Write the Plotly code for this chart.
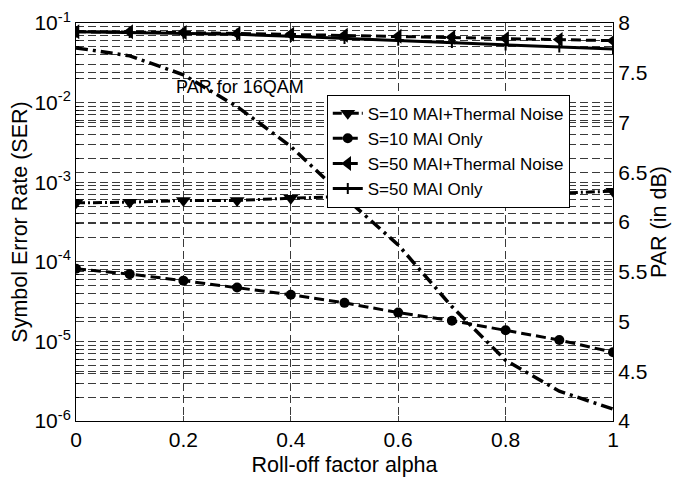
import plotly.graph_objects as go

alpha = [0, 0.1, 0.2, 0.3, 0.4, 0.5, 0.6, 0.7, 0.8, 0.9, 1.0]
ser_s10_mai_thermal = [5.5e-4, 5.6e-4, 5.9e-4, 5.9e-4, 6.3e-4, 6.6e-4, 6.7e-4, 6.9e-4, 7.1e-4, 7.3e-4, 7.7e-4]
ser_s10_mai_only = [8.2e-5, 7.0e-5, 5.8e-5, 4.75e-5, 3.85e-5, 3.05e-5, 2.3e-5, 1.82e-5, 1.38e-5, 1.04e-5, 7.3e-6]
ser_s50_mai_thermal = [0.0775, 0.0775, 0.076, 0.074, 0.072, 0.070, 0.068, 0.066, 0.064, 0.062, 0.060]
ser_s50_mai_only = [0.0775, 0.076, 0.0745, 0.072, 0.068, 0.064, 0.061, 0.057, 0.053, 0.050, 0.047]
par_16qam = [7.75, 7.67, 7.48, 7.16, 6.76, 6.25, 5.77, 5.15, 4.61, 4.30, 4.12]

names = ["S=10 MAI+Thermal Noise", "S=10 MAI Only", "S=50 MAI+Thermal Noise", "S=50 MAI Only"]
decades = [1e-6, 1e-5, 1e-4, 1e-3, 1e-2, 1e-1]
decade_text = ["10<sup>-6</sup>", "10<sup>-5</sup>", "10<sup>-4</sup>", "10<sup>-3</sup>", "10<sup>-2</sup>", "10<sup>-1</sup>"]
minor_vals = [k * 10.0 ** e for e in range(-6, -1) for k in range(2, 10)]
x_ticks = [0, 0.2, 0.4, 0.6, 0.8, 1.0]
x_text = ["0", "0.2", "0.4", "0.6", "0.8", "1"]
par_ticks = [4, 4.5, 5, 5.5, 6, 6.5, 7, 7.5, 8]
par_text = ["4", "4.5", "5", "5.5", "6", "6.5", "7", "7.5", "8"]

FONT = "Liberation Sans, Arial, sans-serif"
GRID = "#3a3a3a"
GDASH = "8px,4px"
TICKF = 21
TITLEF = 21.5

fig = go.Figure()
fig.add_trace(go.Scatter(x=alpha, y=ser_s10_mai_thermal, name=names[0], mode="lines+markers",
                         line=dict(color="black", width=3, dash="9px,3px,2px,3px"),
                         marker=dict(symbol="triangle-down", size=13, color="black")))
fig.add_trace(go.Scatter(x=alpha, y=ser_s10_mai_only, name=names[1], mode="lines+markers",
                         line=dict(color="black", width=3, dash="10px,5px"),
                         marker=dict(symbol="circle", size=10, color="black")))
fig.add_trace(go.Scatter(x=alpha, y=ser_s50_mai_thermal, name=names[2], mode="lines+markers",
                         line=dict(color="black", width=3, dash="10px,5px"),
                         marker=dict(symbol="triangle-left", size=13, color="black")))
fig.add_trace(go.Scatter(x=alpha, y=ser_s50_mai_only, name=names[3], mode="lines+markers",
                         line=dict(color="black", width=3),
                         marker=dict(symbol="cross-thin", size=8, color="black",
                                     line=dict(color="black", width=2))))
fig.add_trace(go.Scatter(x=alpha, y=par_16qam, name="PAR for 16QAM", mode="lines", yaxis="y2",
                         showlegend=False,
                         line=dict(color="black", width=3.5, dash="12px,5px,3px,5px")))

fig.add_annotation(x=0.305, y=7.36, xref="x", yref="y2", text="PAR for 16QAM", showarrow=False,
                   font=dict(family=FONT, size=18, color="black"))

fig.update_layout(
    width=682, height=481,
    margin=dict(l=68, r=77, t=15, b=68, autoexpand=False),
    paper_bgcolor="white", plot_bgcolor="white",
    font=dict(family=FONT, size=TICKF, color="black"),
    showlegend=True,
    legend=dict(x=0.467, y=0.82, xanchor="left", yanchor="top",
                bgcolor="white", bordercolor="black", borderwidth=1,
                font=dict(family=FONT, size=17, color="black"),
                itemwidth=30, tracegroupgap=0),
    xaxis=dict(range=[0, 1], tickvals=x_ticks, ticktext=x_text, ticks="inside", ticklen=5,
               showline=True, linecolor="black", linewidth=1, mirror="ticks", automargin=False,
               showgrid=True, gridcolor=GRID, griddash=GDASH, gridwidth=1, zeroline=False,
               tickfont=dict(size=TICKF), ticklabeloverflow="allow",
               title=dict(text="Roll-off factor alpha", font=dict(size=TITLEF), standoff=6)),
    yaxis=dict(type="log", range=[-6, -1], tickvals=decades, ticktext=decade_text, automargin=False,
               ticks="inside", ticklen=5, showline=True, linecolor="black", linewidth=1,
               showgrid=True, gridcolor=GRID, griddash=GDASH, gridwidth=1, zeroline=False,
               tickfont=dict(size=TICKF), ticklabeloverflow="allow",
               minor=dict(tickvals=minor_vals, ticks="inside", ticklen=3, tickcolor="black",
                          showgrid=True, gridcolor=GRID, griddash=GDASH, gridwidth=1),
               title=dict(text="Symbol Error Rate (SER)", font=dict(size=TITLEF), standoff=2)),
    yaxis2=dict(overlaying="y", side="right", range=[4, 8], tickvals=par_ticks, ticktext=par_text,
                ticks="inside", ticklen=5, showline=True, linecolor="black", linewidth=1,
                automargin=False, tickfont=dict(size=TICKF), ticklabeloverflow="allow",
                showgrid=True, gridcolor=GRID, griddash=GDASH, gridwidth=1, zeroline=False,
                title=dict(text="PAR (in dB)", font=dict(size=TITLEF), standoff=4)),
)

fig.write_html("out.html")
